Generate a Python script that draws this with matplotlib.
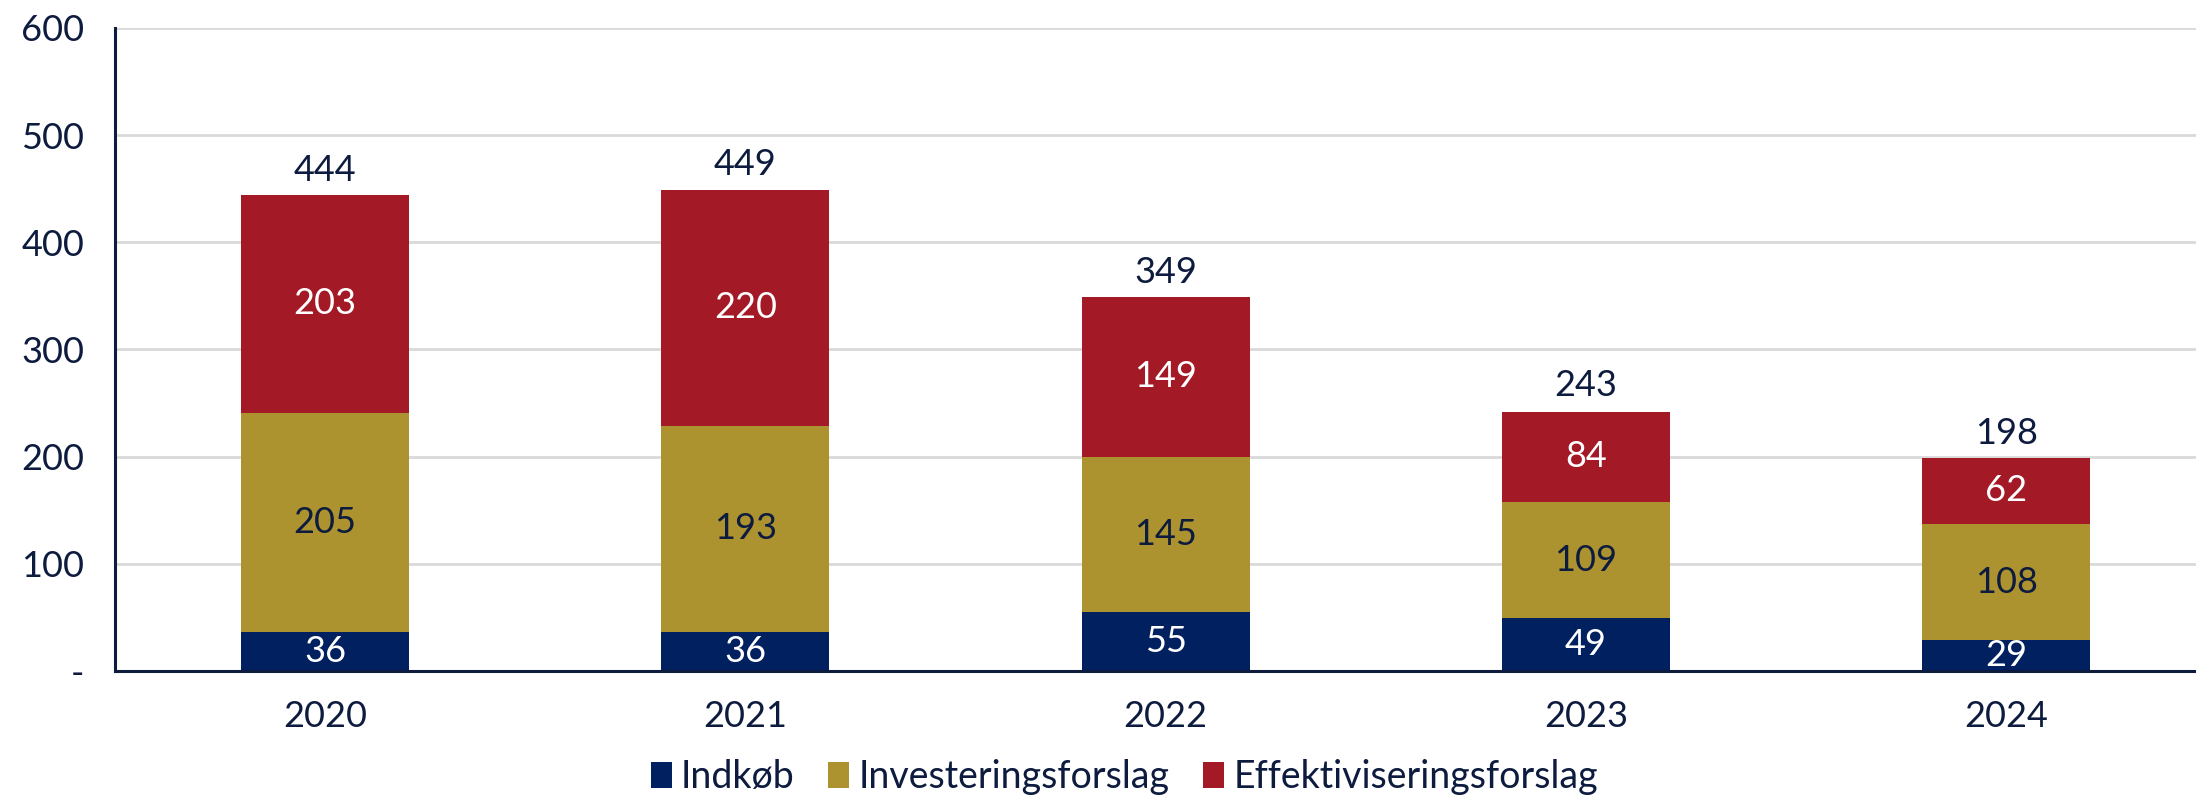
import numpy as np
import matplotlib.pyplot as plt

plt.rcParams['font.family'] = ['Lato', 'DejaVu Sans']

years = ['2020', '2021', '2022', '2023', '2024']
indkob = [36, 36, 55, 49, 29]
investering = [205, 193, 145, 109, 108]
effektivisering = [203, 220, 149, 84, 62]
totals = [444, 449, 349, 243, 198]
yticks = [0, 100, 200, 300, 400, 500, 600]
ytick_labels = ['-', '100', '200', '300', '400', '500', '600']

navy = '#002060'
gold = '#ad9330'
red = '#a31926'
text_col = '#0d1b3e'

fig = plt.figure(figsize=(21.96, 7.99), dpi=100)
ax = fig.add_axes([0.0524, 0.1602, 0.9476, 0.8048])

x = np.arange(len(years))
w = 0.4
b1 = ax.bar(x, indkob, w, color=navy, label='Indkøb', zorder=3)
bottom2 = np.array(indkob)
b2 = ax.bar(x, investering, w, bottom=bottom2, color=gold, label='Investeringsforslag', zorder=3)
bottom3 = bottom2 + np.array(investering)
b3 = ax.bar(x, effektivisering, w, bottom=bottom3, color=red, label='Effektiviseringsforslag', zorder=3)

fs = 26
ax.bar_label(b1, labels=[str(v) for v in indkob], label_type='center', color='white', fontsize=fs)
ax.bar_label(b2, labels=[str(v) for v in investering], label_type='center', color=text_col, fontsize=fs)
ax.bar_label(b3, labels=[str(v) for v in effektivisering], label_type='center', color='white', fontsize=fs)
for xi, t in zip(x, totals):
    ax.annotate(str(t), (xi, t), xytext=(0, 6), textcoords='offset points',
                ha='center', va='bottom', color=text_col, fontsize=fs)

ax.set_xlim(-0.5, 4.452)
ax.set_ylim(0, 600)
ax.set_yticks(yticks)
ax.set_yticklabels(ytick_labels)
ax.set_xticks(x)
ax.set_xticklabels(years)
ax.tick_params(axis='both', length=0, labelsize=fs, labelcolor=text_col)
ax.tick_params(axis='x', pad=21)
ax.tick_params(axis='y', pad=22)
ax.grid(axis='y', color='#d9d9d9', linewidth=2, zorder=0)
for s in ['top', 'right']:
    ax.spines[s].set_visible(False)
for s in ['left', 'bottom']:
    ax.spines[s].set_color(text_col)
    ax.spines[s].set_linewidth(2.2)
    ax.spines[s].set_zorder(4)

fig.legend(loc='center', bbox_to_anchor=(0.512, 0.027), ncol=3, frameon=False,
           fontsize=27, handlelength=0.55, handleheight=0.7, handletextpad=0.25,
           columnspacing=0.9, labelcolor=text_col, borderpad=0)

fig.savefig('out.png', dpi=100)
